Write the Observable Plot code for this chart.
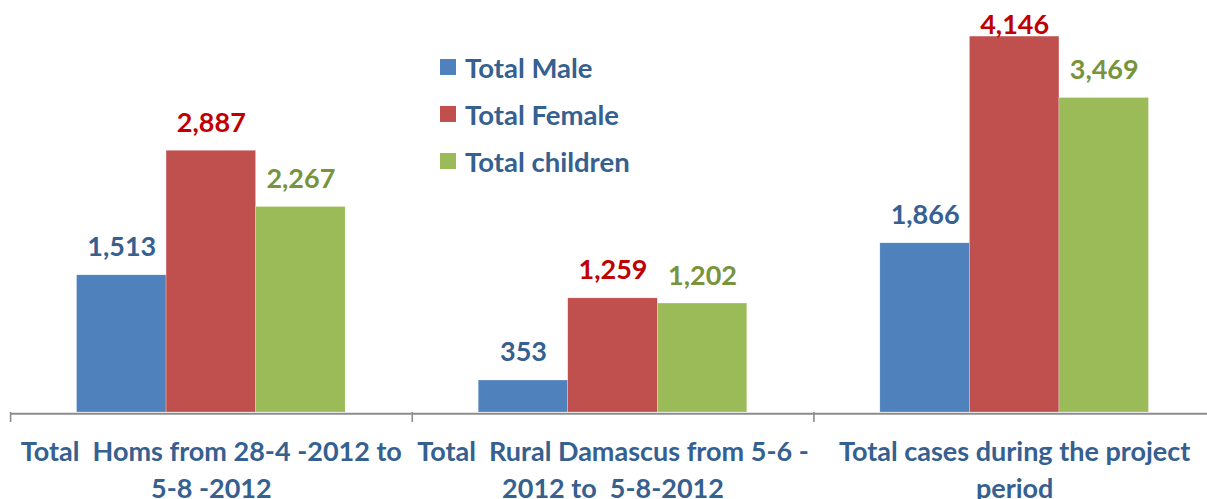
<!DOCTYPE html>
<html>
<head>
<meta charset="utf-8">
<script src="https://cdn.jsdelivr.net/npm/d3@7"></script>
<script src="https://cdn.jsdelivr.net/npm/@observablehq/plot@0.6"></script>
<style>
  body { margin: 0; background: #fff; }
  #wrap { position: relative; width: 1207px; height: 499px; overflow: hidden; font-family: Lato, sans-serif; }
  #wrap svg text { white-space: pre; }
  .legend-item { position: absolute; left: 440px; display: flex; align-items: center; font: bold 27.5px Lato, sans-serif; color: #35608F; white-space: pre; }
  .legend-swatch { width: 16px; height: 16px; margin-right: 9px; }
</style>
</head>
<body>
<div id="wrap"></div>
<script>
// ---- data ----
const groups = [
  "Total  Homs from 28-4 -2012 to\n5-8 -2012",
  "Total  Rural Damascus from 5-6 -\n2012 to  5-8-2012",
  "Total cases during the project\nperiod"
];
const series = ["Total Male", "Total Female", "Total children"];
const maleValues = [1513, 353, 1866];
const femaleValues = [2887, 1259, 4146];
const childrenValues = [2267, 1202, 3469];

// ---- styles ----
const barColors = ["#4F81BD", "#C0504D", "#9BBB59"];
const labelColors = ["#35608F", "#C00000", "#77933C"];
const axisTextColor = "#35608F";

const valuesBySeries = [maleValues, femaleValues, childrenValues];
const data = [];
groups.forEach((g, gi) => {
  series.forEach((s, si) => {
    data.push({group: g, series: s, value: valuesBySeries[si][gi]});
  });
});

const fmt = d3.format(",");

const chart = Plot.plot({
  width: 1215,
  height: 499,
  marginLeft: 10,
  marginRight: 0,
  marginTop: 4,
  marginBottom: 87,
  style: {fontFamily: "Lato, sans-serif", background: "#fff", maxWidth: "none", overflow: "visible"},
  fx: {domain: groups, padding: 0, label: null, round: false},
  x: {domain: series, paddingInner: 0, paddingOuter: 0.743, axis: null, round: false},
  y: {domain: [0, 4500], axis: null},
  color: {domain: series, range: barColors},
  marks: [
    Plot.barY(data, {fx: "group", x: "series", y: "value", fill: "series", stroke: "#fff", strokeOpacity: 0.5, strokeWidth: 0.5}),
    ...series.map((s, si) =>
      Plot.text(data.filter(d => d.series === s), {
        fx: "group", x: "series",
        y: d => Math.min(d.value, 3970),
        text: d => fmt(d.value),
        fill: labelColors[si],
        lineAnchor: "bottom",
        dy: -19,
        fontSize: 27,
        fontWeight: "bold"
      })
    ),
    Plot.ruleY([0], {stroke: "#8c8c8c", strokeWidth: 2, dy: 1.3}),
    Plot.axisFx({anchor: "bottom", tickSize: 10, tickFormat: () => "", stroke: "#8c8c8c", strokeWidth: 1.6, dx: -200.75, label: null}),
    Plot.axisFx({anchor: "bottom", tickSize: 0, tickPadding: 22, fontSize: 27, fontWeight: "bold", lineHeight: 1.37, fill: axisTextColor, label: null})
  ]
});

const wrap = document.getElementById("wrap");
wrap.appendChild(chart);

// legend
series.forEach((s, i) => {
  const item = document.createElement("div");
  item.className = "legend-item";
  item.style.top = (51 + i * 47) + "px";
  item.style.height = "32px";
  const sw = document.createElement("div");
  sw.className = "legend-swatch";
  sw.style.background = barColors[i];
  const tx = document.createElement("span");
  tx.textContent = s;
  item.appendChild(sw);
  item.appendChild(tx);
  wrap.appendChild(item);
});
</script>
</body>
</html>
